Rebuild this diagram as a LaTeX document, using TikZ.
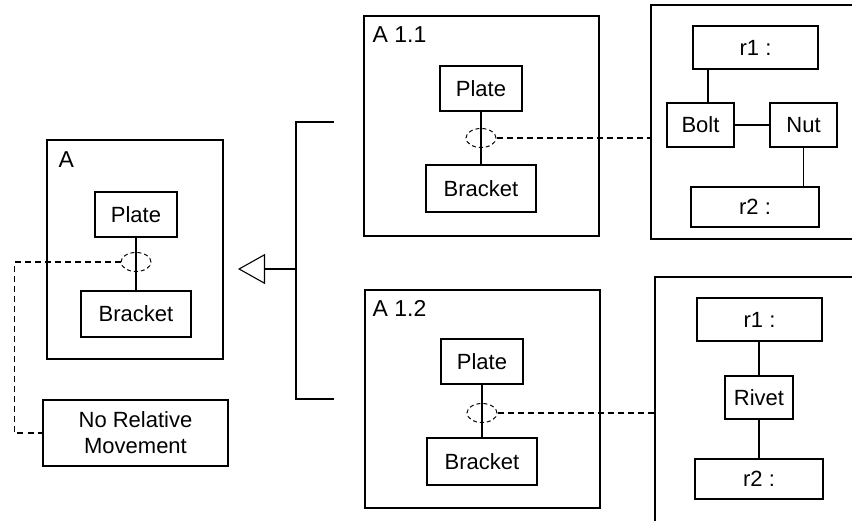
\documentclass[tikz,border=0pt]{standalone}
\usepackage{fontspec}
\setmainfont{Liberation Sans}
\usetikzlibrary{shapes.geometric,arrows.meta}
\tikzset{
  part/.style={draw,line width=1.1pt,inner sep=0pt,font=\fontsize{22}{26}\selectfont},
  frame/.style={draw,line width=1.1pt,inner sep=0pt},
  joint/.style={draw,ellipse,dash pattern=on 4pt off 3pt,line width=1pt,minimum width=30pt,minimum height=19pt,inner sep=0pt},
  link/.style={line width=1.1pt},
  dashlink/.style={line width=1.1pt,dash pattern=on 6pt off 4pt},
  title/.style={anchor=north west,inner sep=0pt,font=\fontsize{23}{27}\selectfont}
}
\begin{document}
\begin{tikzpicture}[x=1pt,y=-1pt]
\useasboundingbox (0,0) rectangle (852,521);
% assembly A
\node[frame,minimum width=176pt,minimum height=219pt] (fa) at (135,249.5) {};
\node[title] at ([xshift=12pt,yshift=-12pt]fa.north west) {A};
\node[part,minimum width=82pt,minimum height=45pt] (plate0) at (136,214.5) {Plate};
\node[part,minimum width=110pt,minimum height=46pt] (bracket0) at (136,314) {Bracket};
\draw[link] (plate0) -- (bracket0);
\node[joint] (ell0) at (136,262) {};
\node[part,minimum width=185pt,minimum height=66pt,align=center] (nrm) at (135.5,433) {No Relative\\Movement};
\draw[dashlink] (ell0.west) -- ++(-106,0) |- (nrm.west);
% generalization
\coordinate (tip) at (238,269);
\coordinate (fork) at (296,269);
\coordinate (top) at (334,122);
\coordinate (bot) at (334,399);
\draw[link] (top) -- (296,122) -- (296,399) -- (bot);
\draw[link,-{Triangle[open,length=27pt,width=30pt,line width=1.1pt]}] (fork) -- (tip);
% variant A 1.1
\node[frame,minimum width=235pt,minimum height=220pt] (fb) at (481.5,126) {};
\node[title] at ([xshift=9pt,yshift=-11pt]fb.north west) {A 1.1};
\node[part,minimum width=82pt,minimum height=45pt] (plate1) at (481,88.5) {Plate};
\node[part,minimum width=110pt,minimum height=47pt] (bracket1) at (481,188.5) {Bracket};
\draw[link] (plate1) -- (bracket1);
\node[joint] (ell1) at (481,138) {};
% bolted joint
\node[frame,minimum width=249pt,minimum height=234pt] (rb) at (775.5,122) {};
\node[part,minimum width=125pt,minimum height=43pt] (r11) at (755.5,47.5) {r1 :};
\node[part,minimum width=67pt,minimum height=44pt] (bolt) at (700.5,125) {Bolt};
\node[part,minimum width=67pt,minimum height=44pt] (nut) at (803.5,125) {Nut};
\node[part,minimum width=128pt,minimum height=40pt] (r21) at (755,207) {r2 :};
\draw[link] ([xshift=7.5pt]bolt.north) -- ([xshift=7.5pt]bolt.north |- r11.south);
\draw[link] (bolt.east) -- (nut.west);
\draw[link] (nut.south) -- (nut.south |- r21.north);
\draw[dashlink] (ell1.east) -- (ell1.east -| rb.west);
% variant A 1.2
\node[frame,minimum width=235pt,minimum height=218pt] (fc) at (482.5,399) {};
\node[title] at ([xshift=8pt,yshift=-11pt]fc.north west) {A 1.2};
\node[part,minimum width=82pt,minimum height=45pt] (plate2) at (482,361.5) {Plate};
\node[part,minimum width=110pt,minimum height=47pt] (bracket2) at (482,461.5) {Bracket};
\draw[link] (plate2) -- (bracket2);
\node[joint] (ell2) at (482,413) {};
% riveted joint
\node[frame,minimum width=249pt,minimum height=283pt] (rc) at (779.5,418.5) {};
\node[part,minimum width=125pt,minimum height=43pt] (r12) at (759.5,319.5) {r1 :};
\node[part,minimum width=68pt,minimum height=43pt] (rivet) at (759,397.5) {Rivet};
\node[part,minimum width=128pt,minimum height=40pt] (r22) at (759,479) {r2 :};
\draw[link] (r12.south -| rivet.north) -- (rivet.north);
\draw[link] (rivet.south) -- (rivet.south |- r22.north);
\draw[dashlink] (ell2.east) -- (ell2.east -| rc.west);
\end{tikzpicture}
\end{document}
